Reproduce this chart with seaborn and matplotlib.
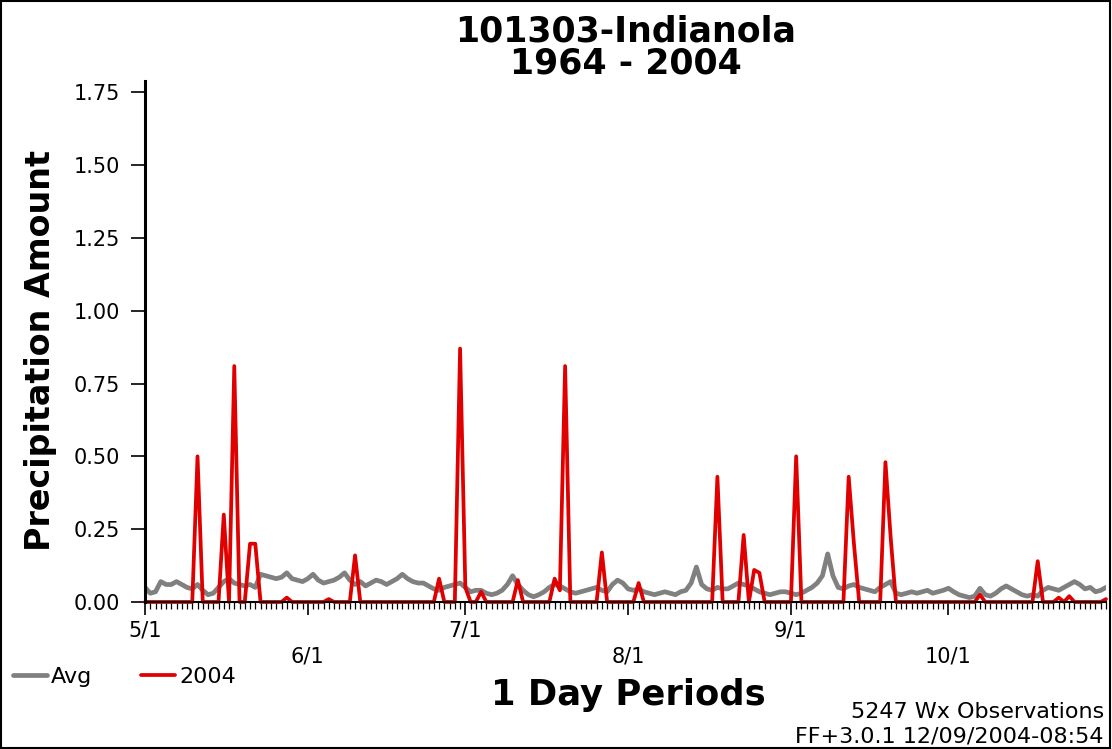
import numpy as np
import matplotlib
matplotlib.use("Agg")
import matplotlib.pyplot as plt
import seaborn as sns
from matplotlib.ticker import MultipleLocator
from matplotlib.patches import Rectangle

# Daily periods from 5/1 (day 0) through 10/31 (day 183)
days = np.arange(184)

# Long-term daily average precipitation, 1964-2004
avg_precip = [
    0.05, 0.03, 0.035, 0.07, 0.06, 0.06, 0.07, 0.06, 0.05, 0.045,
    0.06, 0.04, 0.025, 0.03, 0.05, 0.07, 0.08, 0.065, 0.06, 0.055,
    0.06, 0.05, 0.095, 0.09, 0.085, 0.08, 0.085, 0.10, 0.08, 0.075,
    0.07, 0.08, 0.095, 0.075, 0.065, 0.07, 0.075, 0.085, 0.10, 0.075,
    0.06, 0.07, 0.055, 0.065, 0.075, 0.07, 0.06, 0.07, 0.08, 0.095,
    0.08, 0.07, 0.065, 0.065, 0.055, 0.045, 0.04, 0.05, 0.055, 0.06,
    0.065, 0.05, 0.035, 0.04, 0.04, 0.03, 0.025, 0.03, 0.04, 0.06,
    0.09, 0.06, 0.04, 0.025, 0.018, 0.025, 0.035, 0.05, 0.06, 0.055,
    0.045, 0.035, 0.03, 0.035, 0.04, 0.045, 0.05, 0.04, 0.035, 0.06,
    0.075, 0.065, 0.045, 0.04, 0.045, 0.035, 0.03, 0.025, 0.03, 0.035,
    0.03, 0.025, 0.035, 0.04, 0.065, 0.12, 0.06, 0.045, 0.04, 0.05,
    0.045, 0.045, 0.055, 0.065, 0.06, 0.055, 0.045, 0.035, 0.03, 0.025,
    0.03, 0.035, 0.035, 0.03, 0.025, 0.03, 0.04, 0.05, 0.065, 0.09,
    0.165, 0.09, 0.05, 0.045, 0.055, 0.06, 0.05, 0.045, 0.04, 0.035,
    0.05, 0.06, 0.07, 0.03, 0.025, 0.03, 0.035, 0.03, 0.035, 0.04,
    0.03, 0.035, 0.04, 0.047, 0.035, 0.025, 0.02, 0.015, 0.02, 0.047,
    0.025, 0.02, 0.03, 0.045, 0.055, 0.045, 0.035, 0.025, 0.02, 0.025,
    0.02, 0.04, 0.05, 0.045, 0.04, 0.05, 0.06, 0.07, 0.06, 0.045,
    0.05, 0.035, 0.04, 0.05,
]

# 2004 season: days with measurable precipitation and their amounts
rain_days = [10, 15, 17, 20, 21, 27, 35, 40, 56, 60, 61, 64, 71, 78, 79, 80,
             87, 94, 109, 114, 116, 117, 124, 134, 135, 141, 142, 159, 170,
             174, 176, 183]
rain_amounts = [0.50, 0.30, 0.81, 0.20, 0.20, 0.015, 0.01, 0.16, 0.08, 0.87,
                0.05, 0.035, 0.075, 0.08, 0.04, 0.81, 0.17, 0.065, 0.43, 0.23,
                0.11, 0.10, 0.50, 0.43, 0.20, 0.48, 0.22, 0.025, 0.14, 0.015,
                0.02, 0.01]

month_ticks = [0, 31, 61, 92, 123, 153]
month_labels = ["5/1", "6/1", "7/1", "8/1", "9/1", "10/1"]
y_ticks = [0.0, 0.25, 0.50, 0.75, 1.00, 1.25, 1.50, 1.75]

precip_2004 = np.zeros(len(days))
precip_2004[rain_days] = rain_amounts

sns.set_theme(style="white")
plt.rcParams["font.family"] = ["DejaVu Sans"]
plt.rcParams["text.color"] = "black"

fig = plt.figure(figsize=(11.12, 7.49), dpi=100)
ax = fig.add_axes([0.1304, 0.1963, 0.8642, 0.6960])

sns.lineplot(x=days, y=avg_precip, color="#808080", linewidth=3.4,
             label="Avg", ax=ax)
sns.lineplot(x=days, y=precip_2004, color="#e00000", linewidth=2.7,
             label="2004", ax=ax)
ax.lines[1].set_clip_on(False)

ax.set_xlim(0, 183)
ax.set_ylim(0, 1.79)

# Spines: only left and bottom
sns.despine(ax=ax)
ax.spines["left"].set_linewidth(2.2)
ax.spines["left"].set_color("black")
ax.spines["bottom"].set_linewidth(1.5)
ax.spines["bottom"].set_color("black")

# X axis: month starts as major ticks (labels staggered), daily minor ticks
ax.set_xticks(month_ticks)
ax.set_xticklabels([lab if i % 2 == 0 else "\n" + lab
                    for i, lab in enumerate(month_labels)],
                   linespacing=1.4)
ax.xaxis.set_minor_locator(MultipleLocator(1))
ax.tick_params(axis="x", which="major", bottom=True, length=9.4, width=1.2,
               color="black", direction="out", pad=4, labelsize=15,
               labelcolor="black")
ax.tick_params(axis="x", which="minor", bottom=True, length=5, width=0.9,
               color="black", direction="out")

# Y axis
ax.set_yticks(y_ticks)
ax.set_yticklabels([f"{v:.2f}" for v in y_ticks])
ax.tick_params(axis="y", which="major", left=True, length=10, width=1.2,
               color="black", direction="out", pad=8, labelsize=15,
               labelcolor="black")

ax.set_title("101303-Indianola\n1964 - 2004", fontsize=25, fontweight="bold",
             linespacing=0.95, pad=4, color="black")
ax.set_ylabel("Precipitation Amount", fontsize=24, fontweight="bold",
              color="black")
ax.yaxis.set_label_coords(-0.092, 0.483)
ax.set_xlabel("1 Day Periods", fontsize=25.5, fontweight="bold",
              color="black")
ax.xaxis.set_label_coords(0.5026, -0.1458)

ax.legend(loc="center left", bbox_to_anchor=(0.012, 0.096),
          bbox_transform=fig.transFigure, ncol=2, frameon=False, fontsize=16,
          handlelength=1.5, handletextpad=0.2, columnspacing=2.2,
          borderpad=0, borderaxespad=0)

fig.text(0.9928, 1 - 712 / 749, "5247 Wx Observations", ha="right",
         va="center", fontsize=16, color="black")
fig.text(0.9928, 1 - 736 / 749, "FF+3.0.1 12/09/2004-08:54", ha="right",
         va="center", fontsize=16, color="black")

fig.add_artist(Rectangle((0.001, 0.001), 0.997, 0.997,
                         transform=fig.transFigure, fill=False,
                         edgecolor="black", linewidth=1.5))

fig.savefig("out.png", dpi=100, facecolor="white")
